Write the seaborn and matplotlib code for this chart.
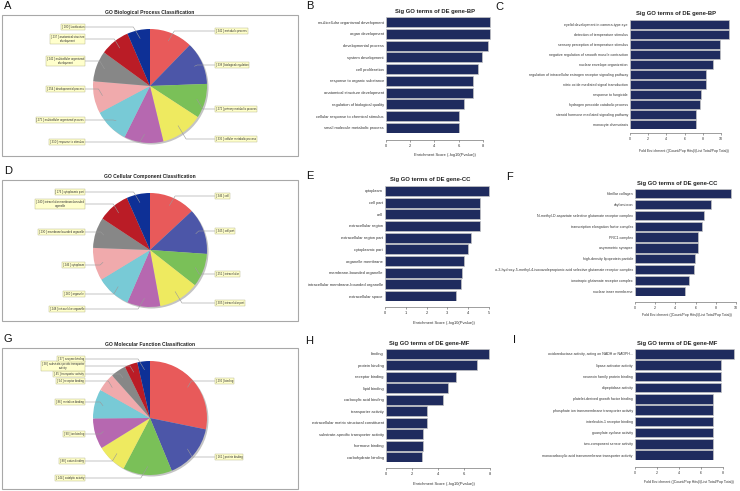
import numpy as np
import pandas as pd
import matplotlib
matplotlib.use("Agg")
import matplotlib.pyplot as plt
import seaborn as sns
from matplotlib.patches import Rectangle, Circle
from matplotlib.transforms import Bbox, TransformedBbox

# ---------------- data ----------------
bp_pie_terms = ["metabolic process", "biological regulation", "primary metabolic process",
                "cellular metabolic process", "response to stimulus", "multicellular organismal process",
                "developmental process", "multicellular organismal development",
                "anatomical structure development", "localization"]
bp_pie_counts = [342, 338, 272, 335, 310, 275, 254, 242, 237, 180]

cc_pie_terms = ["cell", "cell part", "intracellular", "intracellular part", "intracellular organelle",
                "organelle", "cytoplasm", "membrane-bounded organelle",
                "intracellular membrane-bounded organelle", "cytoplasmic part"]
cc_pie_counts = [346, 345, 251, 305, 248, 260, 246, 230, 240, 176]

mf_pie_terms = ["binding", "protein binding", "catalytic activity", "cation binding", "ion binding",
                "metal ion binding", "receptor binding", "transporter activity",
                "substrate-specific transporter activity", "enzyme binding"]
mf_pie_counts = [292, 161, 144, 88, 90, 86, 54, 45, 38, 37]

bp_es_terms = ["multicellular organismal development", "organ development", "developmental process",
               "system development", "cell proliferation", "response to organic substance",
               "anatomical structure development", "regulation of biological quality",
               "cellular response to chemical stimulus", "small molecule metabolic process"]
bp_es_values = [8.6, 8.58, 8.41, 7.92, 7.62, 7.2, 7.2, 6.41, 6.0, 6.0]

bp_fe_terms = ["eyelid development in camera-type eye", "detection of temperature stimulus",
               "sensory perception of temperature stimulus",
               "negative regulation of smooth muscle contraction", "nuclear envelope organization",
               "regulation of intracellular estrogen receptor signaling pathway",
               "nitric oxide mediated signal transduction", "response to fungicide",
               "hydrogen peroxide catabolic process", "steroid hormone mediated signaling pathway",
               "monocyte chemotaxis"]
bp_fe_values = [10.85, 10.85, 9.9, 9.9, 9.08, 8.38, 8.38, 7.8, 7.65, 7.28, 7.28]

cc_es_terms = ["cytoplasm", "cell part", "cell", "extracellular region", "extracellular region part",
               "cytoplasmic part", "organelle membrane", "membrane-bounded organelle",
               "intracellular membrane-bounded organelle", "extracellular space"]
cc_es_values = [4.98, 4.57, 4.57, 4.57, 4.12, 4.0, 3.81, 3.72, 3.65, 3.4]

cc_fe_terms = ["fibrillar collagen", "chylomicron",
               "N-methyl-D-aspartate selective glutamate receptor complex",
               "transcription elongation factor complex", "PRC1 complex", "asymmetric synapse",
               "high-density lipoprotein particle",
               "alpha-amino-3-hydroxy-5-methyl-4-isoxazolepropionic acid selective glutamate receptor complex",
               "ionotropic glutamate receptor complex", "nuclear inner membrane"]
cc_fe_values = [9.47, 7.54, 6.88, 6.68, 6.28, 6.28, 5.98, 5.85, 5.38, 4.98]

mf_es_terms = ["binding", "protein binding", "receptor binding", "lipid binding",
               "carboxylic acid binding", "transporter activity",
               "extracellular matrix structural constituent", "substrate-specific transporter activity",
               "hormone binding", "carbohydrate binding"]
mf_es_values = [7.93, 6.98, 5.42, 4.8, 4.42, 3.12, 3.12, 2.81, 2.81, 2.76]

mf_fe_terms = ["oxidoreductase activity, acting on NADH or NADPH...", "lipase activator activity",
               "neurexin family protein binding", "dipeptidase activity",
               "platelet-derived growth factor binding",
               "phosphate ion transmembrane transporter activity", "interleukin-1 receptor binding",
               "guanylate cyclase activity", "two-component sensor activity",
               "monocarboxylic acid transmembrane transporter activity"]
mf_fe_values = [9.0, 7.79, 7.79, 7.79, 7.09, 7.09, 7.09, 7.09, 7.09, 7.09]

ES_LABEL = "Enrichment Score (-log10(Pvalue))"
FE_LABEL = "Fold Enrichment ((Count/Pop Hits)/(List Total/Pop Total))"

# ---------------- style / layout ----------------
sns.set_theme(style="ticks")
plt.rcParams["font.family"] = ["Liberation Sans", "DejaVu Sans"]

W, H = 740, 491
NAVY = "#1f2b5e"
PIE_COLORS = ["#e85a5a", "#4c56a8", "#7ac058", "#eeea60", "#b668b0",
              "#78cad6", "#f0aaac", "#878787", "#ba1c26", "#0e3096"]
R = 57
WRAP = {
    "anatomical structure development": "anatomical structure\ndevelopment",
    "multicellular organismal development": "multicellular organismal\ndevelopment",
    "intracellular membrane-bounded organelle": "intracellular membrane-bounded\norganelle",
    "substrate-specific transporter activity": "substrate-specific transporter\nactivity",
}

fig = plt.figure(figsize=(7.4, 4.91), dpi=100)
fig.patch.set_facecolor("white")


def fx(px):
    return px / W


def fy(py):
    return 1 - py / H


def Y(py):
    return H - py


ov = fig.add_axes([0, 0, 1, 1])


def draw_pie(counts, terms, title, title_y, box, cx, cy, sides, label_ys):
    x0, y0, x1, y1 = box
    ov.add_patch(Rectangle((x0, Y(y1)), x1 - x0, y1 - y0, fill=False, ec="#a8a8a8", lw=0.8, zorder=0))
    ov.text(cx, Y(title_y), title, ha="center", va="center", fontsize=3.6, fontweight="bold", color="#222")
    ov.add_patch(Circle((cx + 1.5, Y(cy) - 1.5), R, color="#c4c4c4", zorder=1, lw=0))
    wedges, _ = ov.pie(counts, colors=PIE_COLORS, startangle=90, counterclock=False,
                       center=(cx, Y(cy)), radius=R, frame=True,
                       wedgeprops=dict(linewidth=0, zorder=2))
    total = float(sum(counts))
    start = 90.0
    for i, (c, t) in enumerate(zip(counts, terms)):
        span = 360.0 * c / total
        mid = np.deg2rad(start - span / 2)
        start -= span
        sx = cx + 0.85 * R * np.cos(mid)
        sy = Y(cy) + 0.85 * R * np.sin(mid)
        ly = Y(label_ys[i])
        if sides[i] == "R":
            bx = 216
            ex = min(sx + max(3, 0.6 * abs(ly - sy)), bx - 3)
            ha = "left"
        else:
            bx = 84
            ex = max(sx - max(3, 0.6 * abs(ly - sy)), bx + 3)
            ha = "right"
        ov.plot([bx, ex, sx], [ly, ly, sy], color="#9a9a9a", lw=0.4, zorder=3,
                solid_capstyle="butt")
        ov.text(bx, ly, f"[ {c} ] " + WRAP.get(t, t), ha=ha, va="center", fontsize=1.95,
                multialignment="center", color="#333", zorder=4,
                bbox=dict(boxstyle="square,pad=0.3", fc="#ffffcc", ec="#b0b080", lw=0.3))


draw_pie(bp_pie_counts, bp_pie_terms, "GO Biological Process Classification", 12,
         (2, 15, 298, 156), 150, 86,
         ["R", "R", "R", "R", "L", "L", "L", "L", "L", "L"],
         [31, 65, 109, 139, 142, 120, 89, 61, 39, 27])
draw_pie(cc_pie_counts, cc_pie_terms, "GO Cellular Component Classification", 176,
         (2, 180, 298, 321), 150, 250,
         ["R", "R", "R", "R", "L", "L", "L", "L", "L", "L"],
         [196, 231, 274, 303, 309, 294, 265, 232, 204, 192])
draw_pie(mf_pie_counts, mf_pie_terms, "GO Molecular Function Classification", 344,
         (2, 348, 298, 489), 150, 418,
         ["R", "R", "L", "L", "L", "L", "L", "L", "L", "L"],
         [381, 457, 478, 461, 434, 402, 381, 374, 366, 359])

ov.set_aspect("auto")
ov.set_xlim(0, W)
ov.set_ylim(0, H)
ov.axis("off")

BAR_W = 0.85


def bar_panel(terms, values, title, xlabel, left, top, bottom, ppu, xmax, tstep, tmax,
              axis_y, title_xy, xlabel_xy, tick_fs, xlabel_fs):
    ax = fig.add_axes([fx(left), fy(bottom), xmax * ppu / W, (bottom - top) / H])
    df = pd.DataFrame({"term": terms, "value": values})
    sns.barplot(data=df, x="value", y="term", orient="h", color=NAVY, saturation=1,
                width=BAR_W, edgecolor="#c4c4c4", linewidth=0.5, ax=ax)
    n = len(terms)
    ax.set_ylim(n - 1 + BAR_W / 2, -BAR_W / 2)
    ax.set_xlim(0, xmax)
    ticks = np.arange(0, tmax + 0.01, tstep)
    ax.set_xticks(ticks)
    ax.set_xticklabels([f"{int(t)}" for t in ticks])
    ax.set_xlabel("")
    ax.set_ylabel("")
    for s in ["top", "right", "left"]:
        ax.spines[s].set_visible(False)
    ax.spines["bottom"].set_bounds(0, tmax)
    ax.spines["bottom"].set_position(("outward", (axis_y - bottom) * 0.72))
    ax.spines["bottom"].set_linewidth(0.4)
    ax.spines["bottom"].set_color("#555555")
    ax.tick_params(axis="x", bottom=True, length=1.5, width=0.4, labelsize=tick_fs, pad=1.2,
                   colors="#555555", labelcolor="#333333")
    ax.tick_params(axis="y", left=False, length=0, labelsize=tick_fs, pad=1.5, labelcolor="#333333")
    ax.set_facecolor("none")
    fig.text(fx(title_xy[0]), fy(title_xy[1]), title, ha="center", va="center",
             fontsize=4.2, fontweight="bold", color="#222")
    fig.text(fx(xlabel_xy[0]), fy(xlabel_xy[1]), xlabel, ha="center", va="center",
             fontsize=xlabel_fs, color="#333")
    return ax


bar_panel(bp_es_terms, bp_es_values, "Sig GO terms of DE gene-BP", ES_LABEL,
          386, 17, 133, 12.1, 9.0, 2, 8, 140, (435, 12), (445, 155), 2.9, 2.9)
bar_panel(bp_fe_terms, bp_fe_values, "Sig GO terms of DE gene-BP", FE_LABEL,
          630, 20, 129, 9.1, 12.0, 2, 10, 133, (676, 13), (684, 151), 2.6, 2.6)
bar_panel(cc_es_terms, cc_es_values, "Sig GO terms of DE gene-CC", ES_LABEL,
          385, 186, 301, 20.8, 5.3, 1, 5, 307, (430, 179), (444, 323), 2.9, 2.9)
axF = bar_panel(cc_fe_terms, cc_fe_values, "Sig GO terms of DE gene-CC", FE_LABEL,
                635, 189, 296, 10.1, 10.4, 2, 10, 302, (677, 183), (687, 315), 2.6, 2.6)
bar_panel(mf_es_terms, mf_es_values, "Sig GO terms of DE gene-MF", ES_LABEL,
          386, 349, 462, 13.0, 8.4, 2, 8, 468, (429, 343), (444, 484), 2.9, 2.9)
bar_panel(mf_fe_terms, mf_fe_values, "Sig GO terms of DE gene-MF", FE_LABEL,
          635, 349, 460, 11.0, 9.5, 2, 8, 467, (677, 343), (689, 482), 2.6, 2.6)

# clip long label of panel F at the column boundary
clipbb = TransformedBbox(Bbox([[fx(495), 0], [1, 1]]), fig.transFigure)
for lab in axF.get_yticklabels():
    lab.set_clip_box(clipbb)
    lab.set_clip_on(True)

# panel letters
for letter, (px, py) in zip("ABCDEFGHI",
                            [(8, 6), (310, 6), (499, 7), (8, 171), (310, 176), (510, 177),
                             (8, 339), (309, 341), (514, 340)]):
    fig.text(fx(px), fy(py), letter, ha="center", va="center", fontsize=8, color="#111")

fig.savefig("out.png", dpi=100)
